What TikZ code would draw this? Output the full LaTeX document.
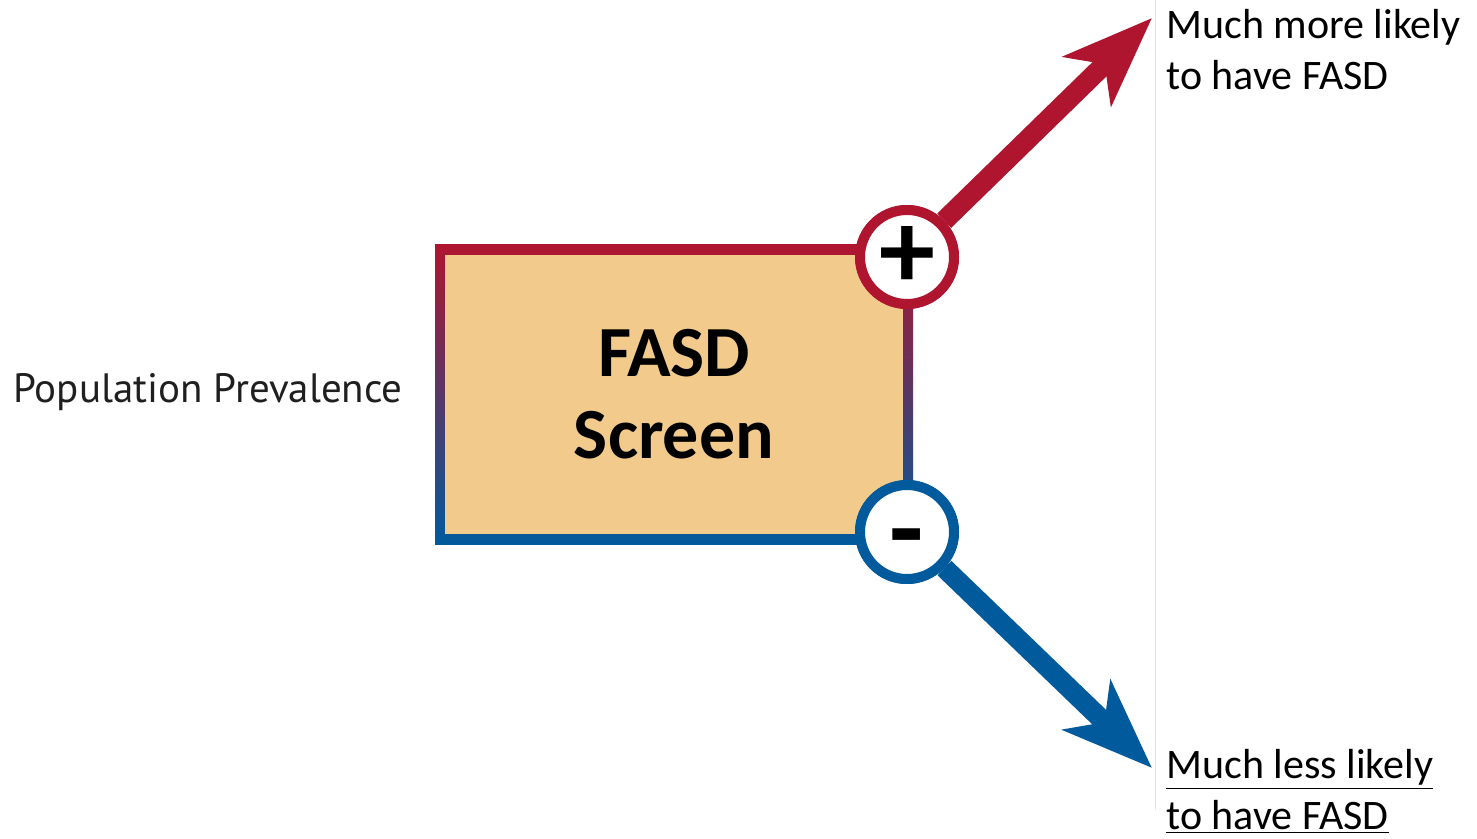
\documentclass[tikz,border=0pt]{standalone}
\usepackage{fontspec}
\setmainfont{Carlito}
\newfontfamily\ptsans{PT Sans}
\usetikzlibrary{arrows.meta}
\definecolor{fasdred}{HTML}{B01530}
\definecolor{fasdblue}{HTML}{005A9C}
\definecolor{fasdfill}{HTML}{F2CB8C}
\begin{document}
\begin{tikzpicture}[x=0.5pt,y=-0.5pt,
  signring/.style={circle, fill=white, line width=5pt, minimum size=47pt, inner sep=0pt},
  signtext/.style={font=\bfseries\fontsize{56}{60}\selectfont, inner sep=0pt},
  bigarrow/.style={line width=10pt, -{Stealth[length=45pt,width=34pt,inset=12pt]}},
  outtext/.style={anchor=north west, align=left, inner sep=0pt, font=\fontsize{21}{25.5}\selectfont}
]
\useasboundingbox (0,0) rectangle (1477,839);
% faint edge line
\coordinate (edgetop) at (1155,0);
\coordinate (edgebot) at (1155,810);
\draw[black!10, line width=0.5pt] (edgetop) -- (edgebot);
% box border with gradient
\shade[top color=fasdred, bottom color=fasdblue] (435,245) rectangle (913,544);
\node[fill=fasdfill, minimum width=229pt, minimum height=139.5pt, inner sep=0pt,
      align=center, font=\bfseries\fontsize{36}{41}\selectfont] (box) at (674,394.5) {FASD\\Screen};
% arrow tips
\coordinate (tipR) at (1152,18);
\coordinate (tipB) at (1152,768);
% circles
\node[signring, draw=fasdred] (plus) at (907,257) {};
\node[signring, draw=fasdblue] (minus) at (907,532) {};
\draw[bigarrow, fasdred] (plus) -- (tipR);
\draw[bigarrow, fasdblue] (minus) -- (tipB);
\node[signring, draw=fasdred] (plus2) at (plus.center) {};
\node[signring, draw=fasdblue] (minus2) at (minus.center) {};
\node[signtext] (plustxt) at (plus.center) {+};
\node[signtext, yshift=-8pt] (minustxt) at (minus.center) {-};
% texts
\node[anchor=west, inner sep=0pt, text=black!88, font=\ptsans\fontsize{20.5}{24}\selectfont] (prev) at (13,392) {Population Prevalence};
\node[outtext] (more) at (1166,9) {Much more likely\\to have FASD};
\node[outtext] (less) at (1166,749) {\underline{Much less likely}\\\underline{to have FASD}};
\end{tikzpicture}
\end{document}
